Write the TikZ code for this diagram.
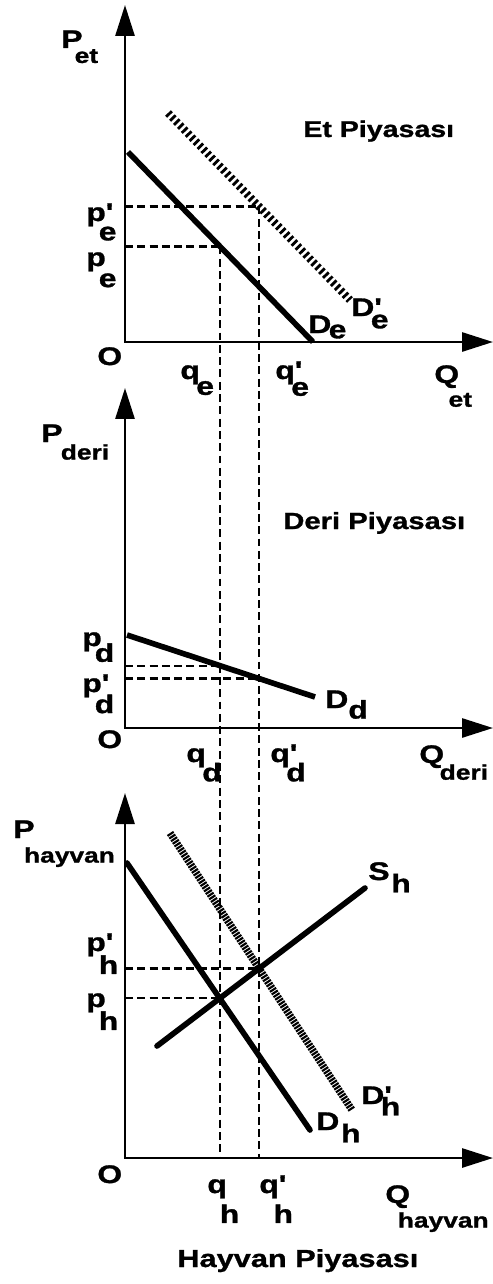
\documentclass[tikz,border=0pt]{standalone}
\usepackage{fontspec}
\setmainfont[FakeStretch=1.25, BoldFeatures={FakeBold=1.2}]{Liberation Sans}
\usetikzlibrary{arrows.meta, positioning}

% etiket: ana harf, alt indis, kaydirma, indis inisi
\newcommand\lab[4][0pt]{#2\kern#1\raisebox{-#4}{#3}}
\newcommand\labp[4][0pt]{#2\rlap{\textquotesingle}\kern#1\raisebox{-#4}{#3}}
\newcommand\labfont{\fontsize{14.5}{16}\selectfont\bfseries}
\newcommand\sm{\fontsize{12}{12}\selectfont}

\begin{document}
\begin{tikzpicture}[x=0.02cm, y=-0.02cm,
  axis/.style={{Triangle[length=0.62cm, width=0.38cm]}-{Triangle[length=0.62cm, width=0.38cm]}, line width=1.6pt},
  demand/.style={line width=3.2pt},
  shifted/.style={line width=4.5pt, dash pattern=on 1.6pt off 1.6pt},
  shiftedh/.style={line width=4.2pt, dash pattern=on 1.2pt off 0.6pt},
  guide/.style={line width=1.3pt, dash pattern=on 4.5pt off 2.5pt},
  lbl/.style={anchor=base west, inner sep=0pt, font=\labfont},
  title/.style={anchor=base west, inner sep=0pt}
]
\useasboundingbox (0,0) rectangle (493,1284);

% Et piyasasi
\coordinate (etO) at (125,342);
\coordinate (etP) at (125,5);
\coordinate (etQ) at (493,342);
\coordinate (de1) at (128,152);
\coordinate (de2) at (313,342);
\coordinate (dpe1) at (168,113);
\coordinate (dpe2) at (350,300);
\coordinate (ee) at (220,246.5);
\coordinate (eep) at (259,206.5);
\coordinate (pe) at (125,246.5);
\coordinate (ppe) at (125,206.5);

% Deri piyasasi
\coordinate (deriO) at (125,728);
\coordinate (deriP) at (125,388);
\coordinate (deriQ) at (493,728);
\coordinate (dd1) at (127,635);
\coordinate (dd2) at (315,697);
\coordinate (ed) at (220,665.7);
\coordinate (edp) at (259,678.5);
\coordinate (pd) at (125,665.7);
\coordinate (ppd) at (125,678.5);

% Hayvan piyasasi
\coordinate (hayO) at (125,1158);
\coordinate (hayP) at (125,793);
\coordinate (hayQ) at (493,1158);
\coordinate (dh1) at (127,863);
\coordinate (dh2) at (310,1130);
\coordinate (dph1) at (170,833);
\coordinate (dph2) at (352,1110);
\coordinate (sh1) at (157,1046);
\coordinate (sh2) at (365,888);
\coordinate (eh) at (220,998.3);
\coordinate (ehp) at (259,968.5);
\coordinate (ph) at (125,998.3);
\coordinate (pph) at (125,968.5);
\coordinate (qh) at (220,1158);
\coordinate (qhp) at (259,1158);

% kesikli cizgiler
\draw[guide] (pe) -- (ee);
\draw[guide] (ppe) -- (eep);
\draw[guide] (pd) -- (ed);
\draw[guide] (ppd) -- (edp);
\draw[guide] (ph) -- (eh);
\draw[guide] (pph) -- (ehp);
\draw[guide] (ee) -- (qh);
\draw[guide] (eep) -- (qhp);

% eksenler
\draw[axis] (etP) -- (etO) -- (etQ);
\draw[axis] (deriP) -- (deriO) -- (deriQ);
\draw[axis] (hayP) -- (hayO) -- (hayQ);

% egriler
\draw[demand] (de1) -- (de2);
\draw[shifted] (dpe1) -- (dpe2);
\draw[demand] (dd1) -- (dd2);
\draw[demand, line cap=round] (dh1) -- (dh2);
\draw[shiftedh] (dph1) -- (dph2);
\draw[demand, line cap=round] (sh1) -- (sh2);

% etiketler - et
\node[lbl] (lPet) at (61,48) {\lab[-4.5pt]{P}{\sm et}{8.5pt}};
\node[lbl] (lppe) at (86,221) {\labp[-4pt]{p}{e}{11pt}};
\node[lbl] (lpe) at (86,266) {\lab[-4pt]{p}{e}{12pt}};
\node[lbl] (lOet) at (97,365) {O};
\node[lbl] (lqe) at (180,379) {\lab[-2pt]{q}{e}{9pt}};
\node[lbl] (lqpe) at (275,379) {\labp[-2pt]{q}{e}{9.5pt}};
\node[lbl] (lQet) at (434,383) {\lab[-6pt]{Q}{\sm et}{13.5pt}};
\node[lbl] (lDe) at (308,333) {\lab[-1.5pt]{D}{e}{3pt}};
\node[lbl] (lDpe) at (351,316) {\labp[-2pt]{D}{e}{7pt}};
\node[title, font=\fontsize{13}{15}\selectfont\bfseries] (tet) at (303,137) {Et Piyasası};

% etiketler - deri
\node[lbl] (lPd) at (41,442) {\lab[-1pt]{P}{\sm deri}{10pt}};
\node[lbl] (lpd) at (82,646) {\lab[-4pt]{p}{d}{9pt}};
\node[lbl] (lppd) at (82,692) {\labp[-4pt]{p}{d}{12pt}};
\node[lbl] (lOd) at (97,748) {O};
\node[lbl] (lqd) at (186,762) {\lab[-2pt]{q}{d}{11pt}};
\node[lbl] (lqpd) at (270,762) {\labp[-2pt]{q}{d}{11pt}};
\node[lbl] (lQd) at (419,763) {\lab[-2.5pt]{Q}{\sm deri}{9.5pt}};
\node[lbl] (lDd) at (325,708) {\lab{D}{d}{6pt}};
\node[title, font=\fontsize{13.3}{15}\selectfont\bfseries] (tderi) at (283,529) {Deri Piyasası};

% etiketler - hayvan
\node[lbl] (lPh) at (13,838) {\lab[-6pt]{P}{\sm hayvan}{14pt}};
\node[lbl] (lpph) at (86,951) {\labp[-4pt]{p}{h}{13pt}};
\node[lbl] (lph) at (86,1007) {\lab[-4pt]{p}{h}{13pt}};
\node[lbl] (lOh) at (97,1183) {O};
\node[lbl] (lqh) at (207,1193) {\lab[-4pt]{q}{h}{17pt}};
\node[lbl] (lqph) at (259,1193) {\labp[-3pt]{q}{h}{17pt}};
\node[lbl] (lQh) at (385,1203) {\lab[-7pt]{Q}{\sm hayvan}{14pt}};
\node[lbl] (lSh) at (368,880) {\lab[1pt]{S}{h}{7pt}};
\node[lbl] (lDph) at (361,1104) {\labp[-2pt]{D}{h}{6.5pt}};
\node[lbl] (lDh) at (316,1130) {\lab[1pt]{D}{h}{7pt}};
\node[title, font=\fontsize{14}{16}\selectfont\bfseries] (thay) at (177,1267) {Hayvan Piyasası};
\end{tikzpicture}
\end{document}
